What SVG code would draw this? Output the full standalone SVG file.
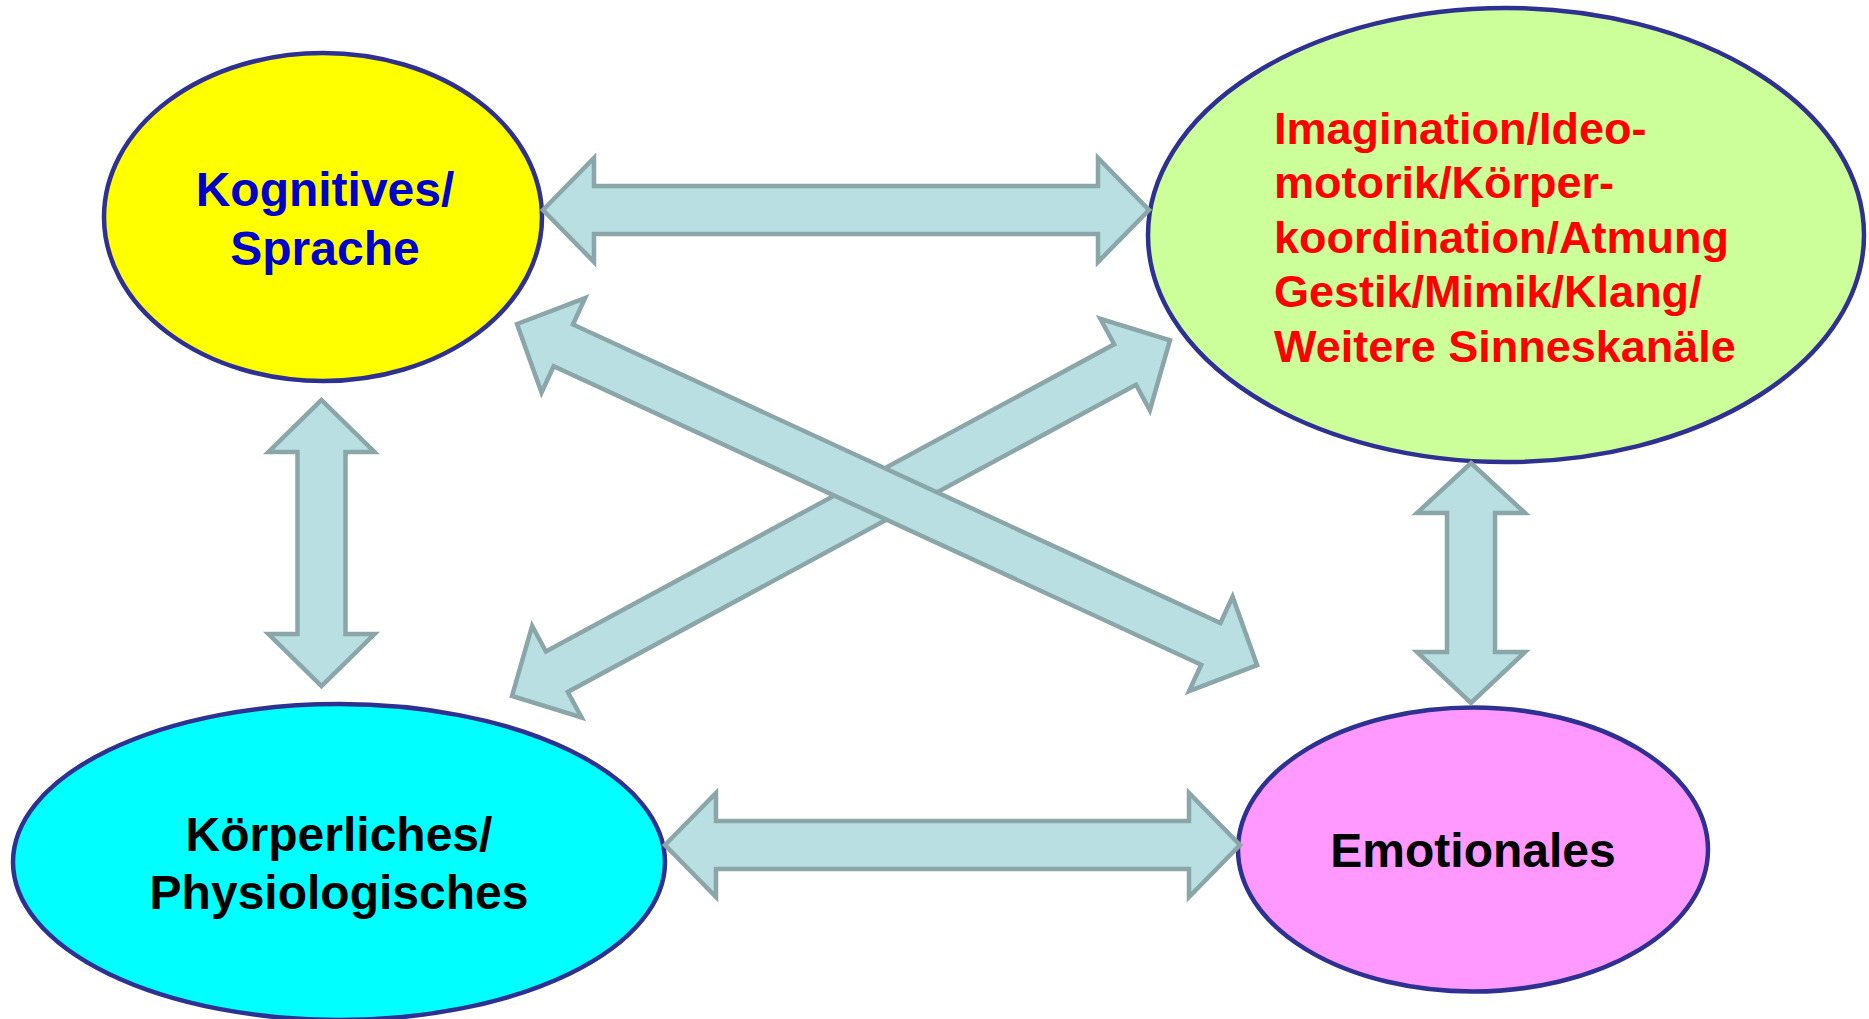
<svg xmlns="http://www.w3.org/2000/svg" width="1869" height="1019" viewBox="0 0 1869 1019">
<defs>
<style>
.node{stroke:#2E3191;stroke-width:4.5}
.lbl{font-family:"Liberation Sans",Arial,sans-serif;font-weight:bold}
.arr{fill:#B9DFE2;stroke:#8BA6A8;stroke-width:4.5;stroke-linejoin:miter}
</style>
</defs>
<rect width="1869" height="1019" fill="#FFFFFF"/>
<g id="node-kognitives">
<ellipse class="node" cx="323" cy="217" rx="219" ry="164" fill="#FFFF00"/>
<text class="lbl" font-size="48" fill="#0000CC" text-anchor="middle"><tspan x="325" y="206">Kognitives/</tspan><tspan x="325" y="265">Sprache</tspan></text>
</g>
<g id="node-imagination">
<ellipse class="node" cx="1506" cy="235" rx="358" ry="227" fill="#CCFF99"/>
<text class="lbl" font-size="45" fill="#FF0000"><tspan x="1274" y="143.5">Imagination/Ideo-</tspan><tspan x="1274" y="198">motorik/Körper-</tspan><tspan x="1274" y="252.7">koordination/Atmung</tspan><tspan x="1274" y="307.3">Gestik/Mimik/Klang/</tspan><tspan x="1274" y="362">Weitere Sinneskanäle</tspan></text>
</g>
<g id="node-koerperliches">
<ellipse class="node" cx="339" cy="862" rx="326" ry="158" fill="#00FFFF"/>
<text class="lbl" font-size="48" fill="#000000" text-anchor="middle"><tspan x="339" y="851">Körperliches/</tspan><tspan x="339" y="909">Physiologisches</tspan></text>
</g>
<g id="node-emotionales">
<ellipse class="node" cx="1473" cy="849.5" rx="235" ry="142" fill="#FF99FF"/>
<text class="lbl" font-size="48" fill="#000000" text-anchor="middle" x="1473" y="867">Emotionales</text>
</g>
<g id="connectors">
<!-- top horizontal: Kognitives <-> Imagination -->
<path class="arr" transform="translate(543,210)" d="M0,0 L51,-52 L51,-24 L555,-24 L555,-52 L606,0 L555,52 L555,24 L51,24 L51,52 Z"/>
<!-- bottom horizontal: Koerperliches <-> Emotionales -->
<path class="arr" transform="translate(665,845)" d="M0,0 L51,-52 L51,-24 L524,-24 L524,-52 L575,0 L524,52 L524,24 L51,24 L51,52 Z"/>
<!-- left vertical -->
<path class="arr" transform="translate(321.5,400) rotate(90)" d="M0,0 L52,-53 L52,-24 L234,-24 L234,-53 L286,0 L234,53 L234,24 L52,24 L52,53 Z"/>
<!-- right vertical -->
<path class="arr" transform="translate(1471,463) rotate(90)" d="M0,0 L50,-54 L50,-24 L189,-24 L189,-54 L240,0 L189,54 L189,24 L50,24 L50,54 Z"/>
<!-- diagonal: Koerperliches <-> Imagination -->
<path class="arr" transform="translate(512,696) rotate(-28.4)" d="M0,0 L51,-52 L51,-23 L697,-23 L697,-52 L748,0 L697,52 L697,23 L51,23 L51,52 Z"/>
<!-- diagonal: Kognitives <-> Emotionales -->
<path class="arr" transform="translate(517,324) rotate(24.75)" d="M0,0 L51,-52 L51,-23 L764,-23 L764,-52 L815,0 L764,52 L764,23 L51,23 L51,52 Z"/>
</g>
</svg>
